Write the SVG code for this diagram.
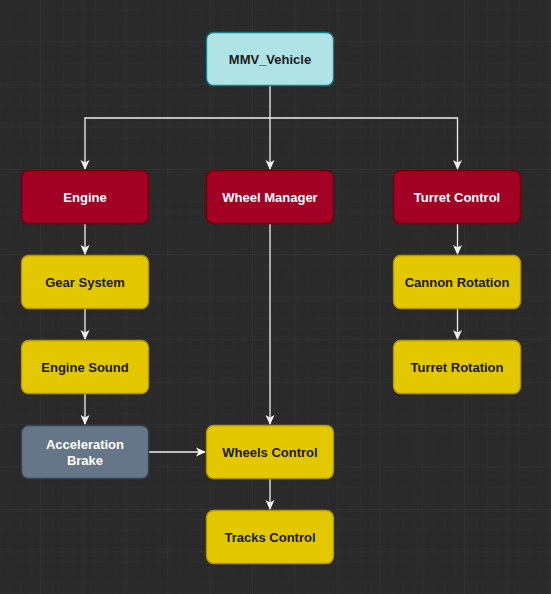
<svg xmlns="http://www.w3.org/2000/svg" width="551" height="594" viewBox="0 0 551 594">
<defs>
<pattern id="minor" x="0.5" y="0.5" width="10.6" height="10.6" patternUnits="userSpaceOnUse">
<path d="M10.6 0V10.6M0 10.6H10.6" fill="none" stroke="#2e2e2e" stroke-width="1"/>
</pattern>
<pattern id="major" x="-1.4" y="0" width="42.4" height="42.5" patternUnits="userSpaceOnUse">
<path d="M42.4 0V42.5M0 42.5H42.4" fill="none" stroke="#353535" stroke-width="1"/>
</pattern>
<marker id="arr" viewBox="0 0 10 10" refX="9" refY="5" markerWidth="10" markerHeight="10" markerUnits="userSpaceOnUse" orient="auto">
<path d="M0 0.5L10 5L0 9.5L2.5 5Z" fill="#f0f0f0"/>
</marker>
</defs>
<style>
.n rect{stroke-width:1.3}
.n text{font-family:"Liberation Sans",Arial,sans-serif;font-size:13px;font-weight:bold;text-anchor:middle;dominant-baseline:central}
.cyan rect{fill:#b0e3e6;stroke:#0e8088}
.red rect{fill:#a20025;stroke:#6f0000}
.yel rect{fill:#e3c800;stroke:#b09500}
.gray rect{fill:#647687;stroke:#314354}
.cyan text,.yel text{fill:#1a1a1a}
.red text,.gray text{fill:#ffffff}
.c path{fill:none;stroke:#f0f0f0;stroke-width:1.3;marker-end:url(#arr)}
</style>
<rect width="551" height="594" fill="#2a2a2a"/>
<rect width="551" height="594" fill="url(#minor)"/>
<rect width="551" height="594" fill="url(#major)"/>
<g id="connectors" class="c">
<path d="M270 86V118H85V169"/>
<path d="M270 118V169"/>
<path d="M270 118H457.5V169"/>
<path d="M85 223V254"/>
<path d="M85 308V339"/>
<path d="M85 393V424"/>
<path d="M457.5 223V254"/>
<path d="M457.5 308V339"/>
<path d="M270 223V424"/>
<path d="M149 452H205"/>
<path d="M270 478V509"/>
</g>
<g id="mmv" class="n cyan"><rect x="206.5" y="32.5" width="127" height="53" rx="7"/><text x="270" y="59">MMV_Vehicle</text></g>
<g id="engine" class="n red"><rect x="21.5" y="170.5" width="127" height="53" rx="7"/><text x="85" y="197">Engine</text></g>
<g id="wheelmgr" class="n red"><rect x="206.5" y="170.5" width="127" height="53" rx="7"/><text x="270" y="197">Wheel Manager</text></g>
<g id="turret" class="n red"><rect x="393.5" y="170.5" width="127" height="53" rx="7"/><text x="457" y="197">Turret Control</text></g>
<g id="gear" class="n yel"><rect x="21.5" y="255.5" width="127" height="53" rx="7"/><text x="85" y="282">Gear System</text></g>
<g id="sound" class="n yel"><rect x="21.5" y="340.5" width="127" height="53" rx="7"/><text x="85" y="367">Engine Sound</text></g>
<g id="accel" class="n gray"><rect x="21.5" y="425.5" width="127" height="53" rx="7"/><text x="85" y="444">Acceleration</text><text x="85" y="460">Brake</text></g>
<g id="cannon" class="n yel"><rect x="393.5" y="255.5" width="127" height="53" rx="7"/><text x="457" y="282">Cannon Rotation</text></g>
<g id="turretrot" class="n yel"><rect x="393.5" y="340.5" width="127" height="53" rx="7"/><text x="457" y="367">Turret Rotation</text></g>
<g id="wheels" class="n yel"><rect x="206.5" y="425.5" width="127" height="53" rx="7"/><text x="270" y="452">Wheels Control</text></g>
<g id="tracks" class="n yel"><rect x="206.5" y="510.5" width="127" height="53" rx="7"/><text x="270" y="537">Tracks Control</text></g>
</svg>
